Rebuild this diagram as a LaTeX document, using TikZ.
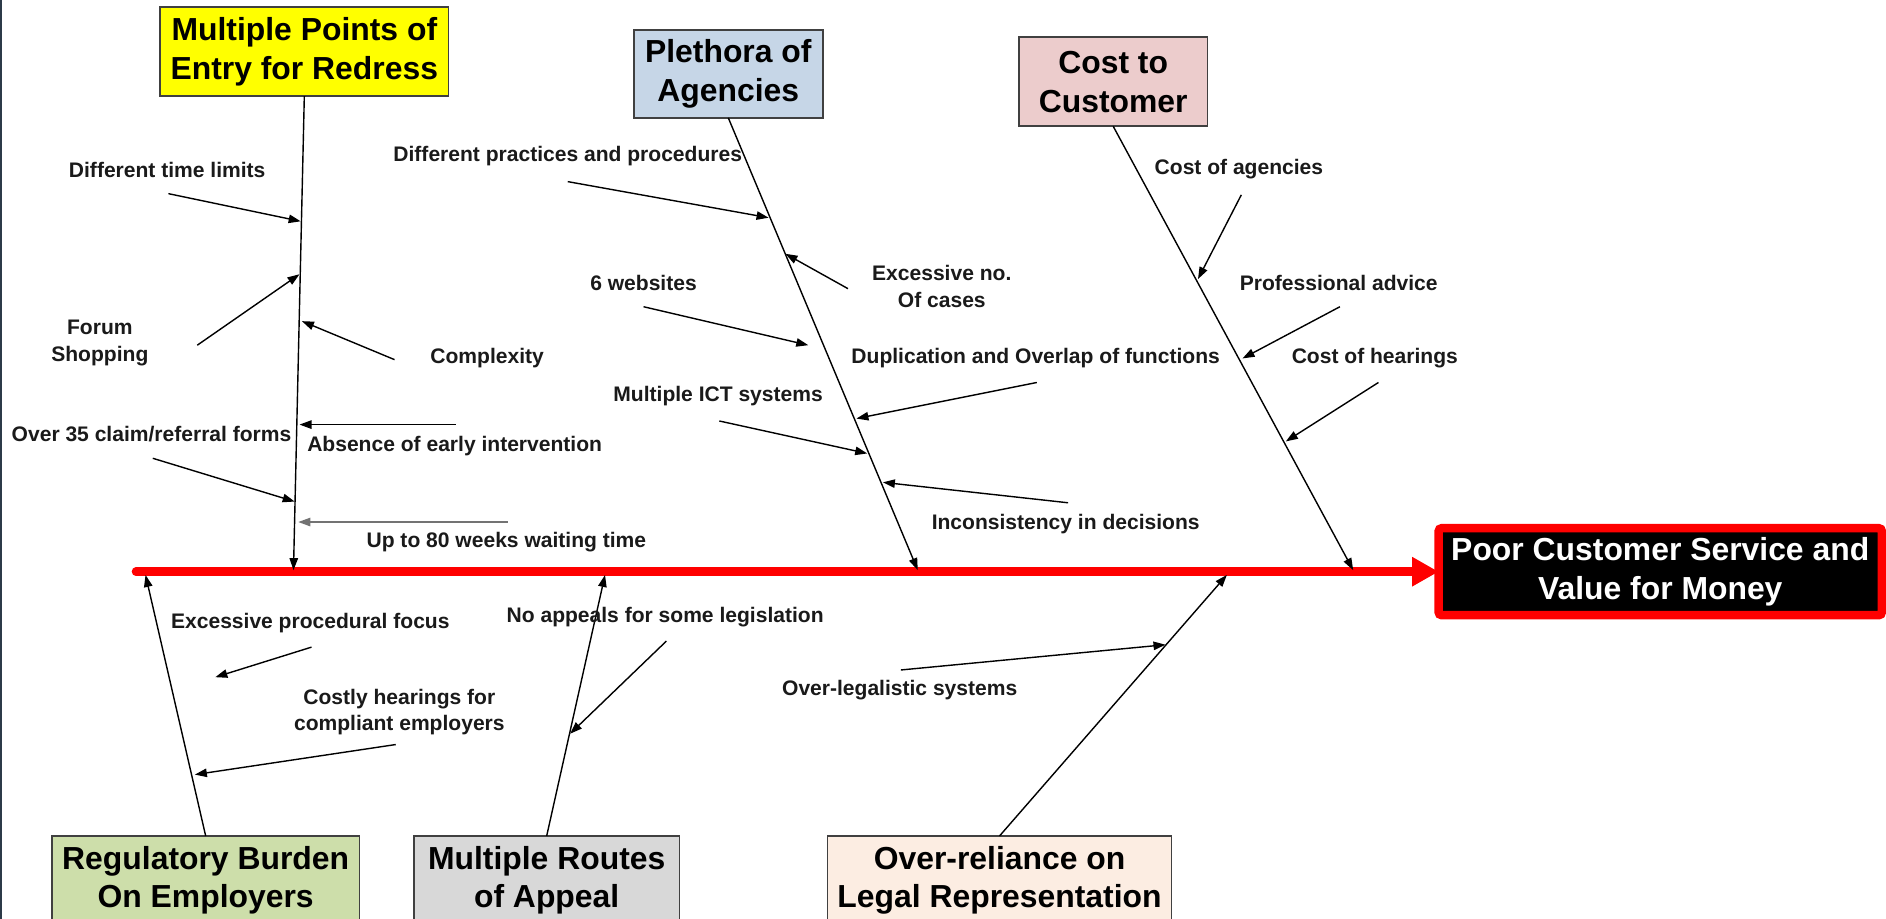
\documentclass[tikz,border=0pt]{standalone}
\usepackage{fontspec}
\setmainfont{Liberation Sans}
\usetikzlibrary{arrows.meta}
\definecolor{cyellow}{RGB}{255,255,0}
\definecolor{cblue}{RGB}{198,214,231}
\definecolor{cpink}{RGB}{236,204,204}
\definecolor{cgreen}{RGB}{205,222,170}
\definecolor{cgray}{RGB}{216,216,216}
\definecolor{cpeach}{RGB}{252,237,226}
\definecolor{cedge}{RGB}{64,64,64}
\definecolor{cstrip}{RGB}{44,58,72}
\definecolor{ctext}{RGB}{26,26,26}
\tikzset{
  causebox/.style={draw=cedge, line width=0.8pt, inner sep=0pt, outer sep=0pt, align=center,
    font=\fontsize{15.9pt}{19.2pt}\selectfont\bfseries, text=black},
  lbl/.style={inner sep=0pt, align=center, font=\fontsize{10.5pt}{13.2pt}\selectfont\bfseries, text=ctext},
  arr/.style={line width=0.7pt, draw=black, -{Triangle[length=6pt,width=4.2pt]}},
  bone/.style={line width=0.7pt, draw=black, -{Triangle[length=6pt,width=4.2pt]}},
  spine/.style={line width=4.2pt, draw=red, line cap=round, -{Triangle[length=13.2pt,width=13.8pt]}},
}
\begin{document}
\begin{tikzpicture}[x=0.6pt,y=-0.6pt]
\path[use as bounding box] (0,0) rectangle (1568,764);
\clip (0,0) rectangle (1568,764);
\fill[white] (0,0) rectangle (1568,764);
\fill[cstrip] (0,0) rectangle (2,764);

% effect
\node[draw=red, line width=4.2pt, fill=black, rounded corners=1.5pt, inner sep=0pt, outer sep=0pt,
  minimum width=221.1pt, minimum height=43.4pt, align=center, text=white,
  font=\fontsize{15.9pt}{19.2pt}\selectfont\bfseries] (eff) at (1380.3,475.3)
  {Poor Customer Service and\\Value for Money};

% cause boxes
\node[causebox, fill=cyellow, minimum width=144pt, minimum height=44.4pt] (bA) at (253,43) {Multiple Points of\\Entry for Redress};
\node[causebox, fill=cblue, minimum width=94.2pt, minimum height=43.8pt] (bB) at (605.5,61.5) {Plethora of\\Agencies};
\node[causebox, fill=cpink, minimum width=94.2pt, minimum height=44.4pt] (bC) at (925.5,68) {Cost to\\Customer};
\node[causebox, fill=cgreen, minimum width=153.6pt, minimum height=44.4pt] (bD) at (171,732) {Regulatory Burden\\On Employers};
\node[causebox, fill=cgray, minimum width=132.6pt, minimum height=44.4pt] (bE) at (454.5,732) {Multiple Routes\\of Appeal};
\node[causebox, fill=cpeach, minimum width=171.6pt, minimum height=44.4pt] (bF) at (831,732) {Over-reliance on\\Legal Representation};

% spine
\coordinate (sp0) at (113,475.3);
\draw[spine] (sp0) -- (eff.west);

% bone ends on spine
\coordinate (sA) at (244,474);
\coordinate (sB) at (763,474);
\coordinate (sC) at (1125,474);
\coordinate (sD) at (121,478);
\coordinate (sE) at (503,478);
\coordinate (sF) at (1020,478);
\draw[bone] (bA.south) -- (sA);
\draw[bone] (bB.south) -- (sB);
\draw[bone] (bC.south) -- (sC);
\draw[bone] (bD.north) -- (sD);
\draw[bone] (bE.north) -- (sE);
\draw[bone] (bF.north) -- (sF);

% labels
\node[lbl] (l1) at (139,141) {Different time limits};
\node[lbl] (l2) at (83,285) {Forum\\Shopping};
\node[lbl] (l3) at (405,298) {Complexity};
\node[lbl] (l4) at (126,361) {Over 35 claim/referral forms};
\node[lbl] (l5) at (378,371) {Absence of early intervention};
\node[lbl] (l6) at (421,451) {Up to 80 weeks waiting time};
\node[lbl] (l7) at (472,130) {Different practices and procedures};
\node[lbl] (l8) at (783,238) {Excessive no.\\Of cases};
\node[lbl] (l9) at (535,235) {6 websites};
\node[lbl] (l10) at (861,298) {Duplication and Overlap of functions};
\node[lbl] (l11) at (597,329) {Multiple ICT systems};
\node[lbl] (l12) at (886,436) {Inconsistency in decisions};
\node[lbl] (l13) at (1030,141) {Cost of agencies};
\node[lbl] (l14) at (1113,235) {Professional advice};
\node[lbl] (l15) at (1143,298) {Cost of hearings};
\node[lbl] (l16) at (258,518) {Excessive procedural focus};
\node[lbl] (l17) at (332,592) {Costly hearings for\\compliant employers};
\node[lbl] (l18) at (553,513) {No appeals for some legislation};
\node[lbl] (l19) at (748,574) {Over-legalistic systems};

% arrow tails and heads
\coordinate (t1) at (140,161);  \coordinate (h1) at (250,184);
\coordinate (t2) at (164,287);  \coordinate (h2) at (249,228);
\coordinate (t3) at (328,299);  \coordinate (h3) at (251,267);
\coordinate (t4) at (127,381);  \coordinate (h4) at (245,417);
\coordinate (t5) at (379,353);  \coordinate (h5) at (249,353);
\coordinate (t6) at (422,434);  \coordinate (h6) at (248,434);
\coordinate (t7) at (472,151);  \coordinate (h7) at (639,181);
\coordinate (t8) at (705,240);  \coordinate (h8) at (653,211);
\coordinate (t9) at (535,255);  \coordinate (h9) at (672,287);
\coordinate (t10) at (862,318); \coordinate (h10) at (712,348);
\coordinate (t11) at (598,350); \coordinate (h11) at (721,377);
\coordinate (t12) at (888,418); \coordinate (h12) at (734,401);
\coordinate (t13) at (1032,162); \coordinate (h13) at (996,232);
\coordinate (t14) at (1114,255); \coordinate (h14) at (1033,298);
\coordinate (t15) at (1146,318); \coordinate (h15) at (1069,367);
\coordinate (t16) at (259,538); \coordinate (h16) at (179,563);
\coordinate (t17) at (329,619); \coordinate (h17) at (162,644);
\coordinate (t18) at (554,533); \coordinate (h18) at (474,610);
\coordinate (t19) at (749,557); \coordinate (h19) at (969,536);

\foreach \i in {1,2,3,4,5,7,8,9,10,11,12,13,14,15,16,17,18,19}
  \draw[arr] (t\i) -- (h\i);
\draw[arr, draw=gray!90!black] (t6) -- (h6);
\end{tikzpicture}
\end{document}
